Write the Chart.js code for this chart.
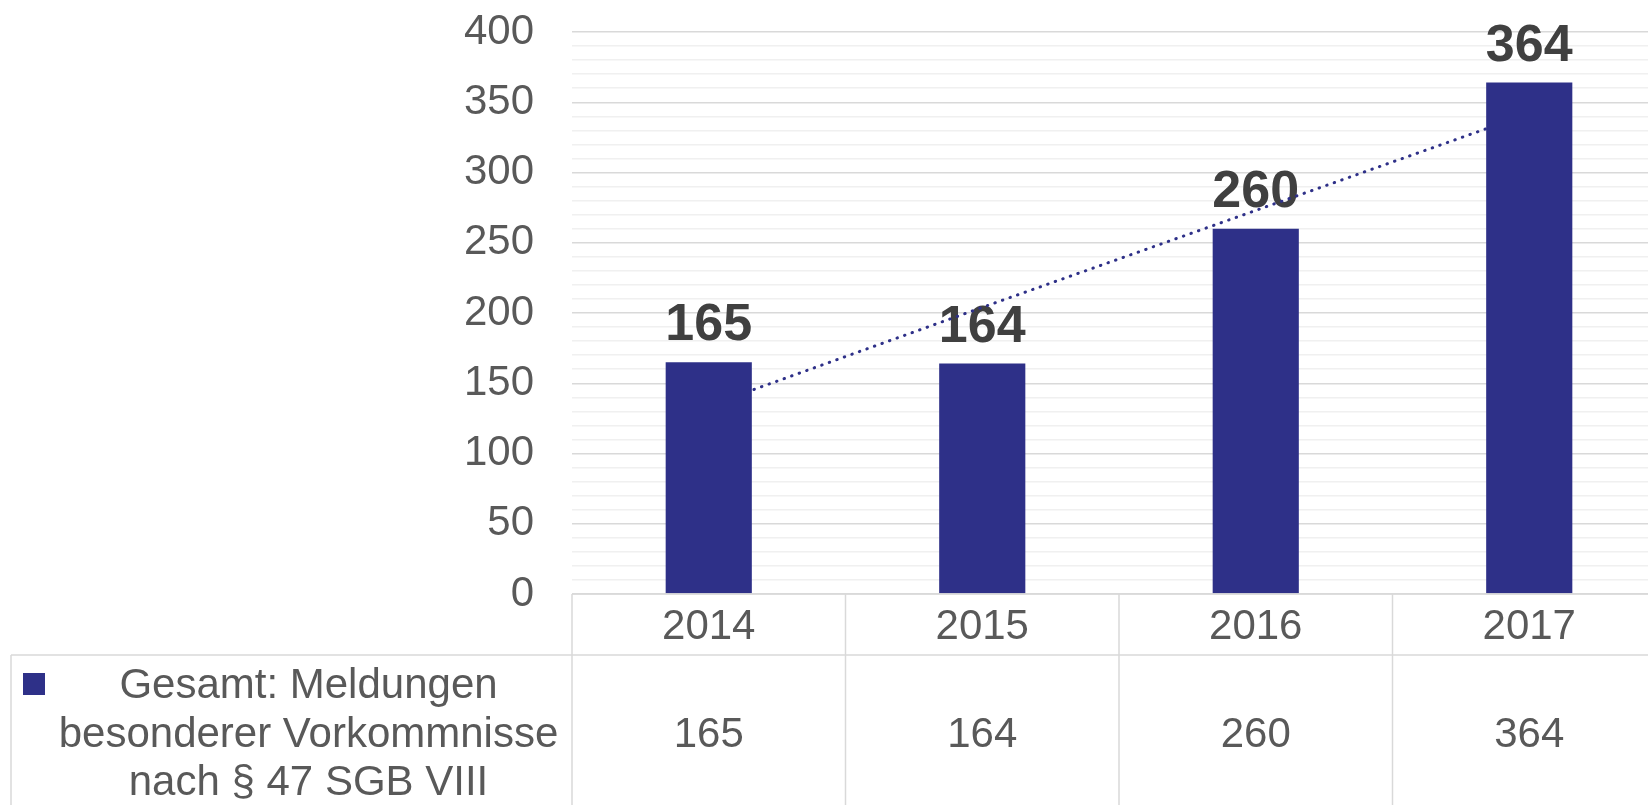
<!DOCTYPE html>
<html lang="de">
<head>
    <meta charset="UTF-8">
    <title>Meldungen besonderer Vorkommnisse</title>
    <script src="https://cdn.jsdelivr.net/npm/chart.js"></script>
    <style>
        body { margin: 0; overflow: hidden; background: #fff; }
        #chartBox { width: 1666px; height: 805px; position: relative; }
    </style>
</head>
<body>

<div id="chartBox">
    <canvas id="meldungenChart"></canvas>
</div>

<script>
    // data
    const years = ['2014', '2015', '2016', '2017'];
    const meldungen = [165, 164, 260, 364];
    const trend = [134, 204, 273, 342];   // linear trendline (dotted)
    const legendLines = ['Gesamt: Meldungen', 'besonderer Vorkommnisse', 'nach § 47 SGB VIII'];

    const FONT = '"Liberation Sans", Arial, sans-serif';
    const BAR_COLOR = '#2E3088';
    const TEXT_COLOR = '#595959';
    const LINE_COLOR = '#D9D9D9';

    // bold values above the bars (drawn before datasets so the trend dots sit on top)
    const barLabels = {
        id: 'barLabels',
        beforeDatasetsDraw(chart) {
            const ctx = chart.ctx;
            const meta = chart.getDatasetMeta(0);
            ctx.save();
            ctx.font = 'bold 52px ' + FONT;
            ctx.fillStyle = '#404040';
            ctx.textAlign = 'center';
            ctx.textBaseline = 'alphabetic';
            meta.data.forEach((bar, i) => {
                ctx.fillText(String(meldungen[i]), bar.x, bar.y - 22);
            });
            ctx.restore();
        }
    };

    // data table under the plot: year row, legend cell and value row
    const dataTable = {
        id: 'dataTable',
        afterDraw(chart) {
            const ctx = chart.ctx;
            const area = chart.chartArea;
            const xs = chart.scales.x;
            const cw = (area.right - area.left) / years.length;
            const rowTop = area.bottom;
            const rowMid = rowTop + 61;
            const bottom = chart.height;

            ctx.save();
            ctx.strokeStyle = LINE_COLOR;
            ctx.lineWidth = 1.5;
            ctx.beginPath();
            ctx.moveTo(area.left, rowTop);
            ctx.lineTo(area.right, rowTop);
            ctx.moveTo(11, rowMid);
            ctx.lineTo(area.right, rowMid);
            ctx.moveTo(11, rowMid);
            ctx.lineTo(11, bottom);
            for (let i = 0; i <= years.length; i++) {
                const x = area.left + i * cw;
                ctx.moveTo(x, rowTop);
                ctx.lineTo(x, bottom);
            }
            ctx.stroke();

            ctx.fillStyle = TEXT_COLOR;
            ctx.font = '42px ' + FONT;
            ctx.textAlign = 'center';
            ctx.textBaseline = 'alphabetic';
            years.forEach((y, i) => {
                const cx = xs.getPixelForValue(i);
                ctx.fillText(y, cx, rowTop + 45);
                ctx.fillText(String(meldungen[i]), cx, rowMid + 92);
            });

            // legend cell
            ctx.fillStyle = BAR_COLOR;
            ctx.fillRect(23, rowMid + 18, 22, 22);
            ctx.fillStyle = TEXT_COLOR;
            const lx = (45 + area.left) / 2;
            legendLines.forEach((t, i) => {
                ctx.fillText(t, lx, rowMid + 43 + i * 48.5);
            });
            ctx.restore();
        }
    };

    const ctx = document.getElementById('meldungenChart').getContext('2d');
    new Chart(ctx, {
        type: 'bar',
        data: {
            labels: years,
            datasets: [{
                label: legendLines.join(' '),
                data: meldungen,
                backgroundColor: BAR_COLOR,
                categoryPercentage: 1,
                barPercentage: 0.315,
                order: 0
            }, {
                type: 'line',
                label: 'Trend',
                data: trend,
                borderColor: BAR_COLOR,
                borderWidth: 3,
                borderDash: [0.5, 7.5],
                borderCapStyle: 'round',
                pointRadius: 0,
                fill: false,
                order: 1
            }]
        },
        options: {
            responsive: true,
            maintainAspectRatio: false,
            animation: false,
            layout: { padding: { top: 32, bottom: 211, left: 0, right: 0 } },
            plugins: {
                legend: { display: false },
                tooltip: { enabled: false }
            },
            scales: {
                x: { display: false },
                y: {
                    min: 0,
                    max: 400,
                    afterFit: s => {
                        s.width = 572;
                        s.paddingTop = 0;
                        s.paddingBottom = 0;
                    },
                    border: { display: false },
                    grid: {
                        drawTicks: false,
                        lineWidth: 1.5,
                        color: c => (c.tick && c.tick.value % 50 === 0) ? LINE_COLOR : '#F0F0F0'
                    },
                    ticks: {
                        stepSize: 10,
                        autoSkip: false,
                        padding: 38,
                        color: TEXT_COLOR,
                        font: { size: 42, family: FONT },
                        callback: v => v % 50 === 0 ? v : ''
                    }
                }
            }
        },
        plugins: [barLabels, dataTable]
    });
</script>

</body>
</html>
